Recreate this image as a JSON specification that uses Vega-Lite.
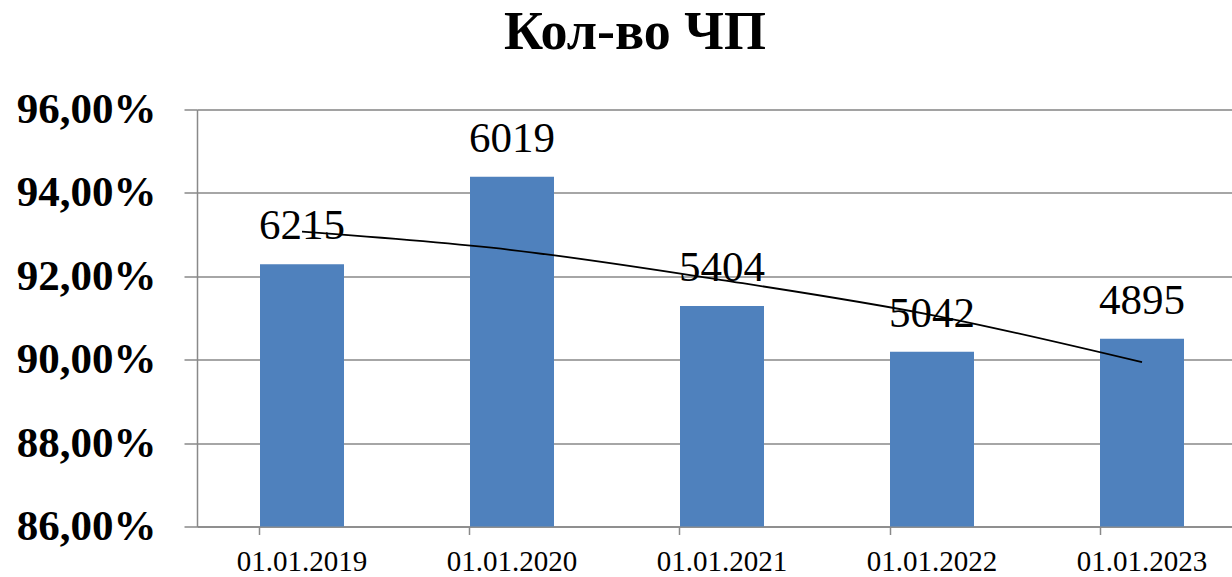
{
  "$schema": "https://vega.github.io/schema/vega-lite/v6.json",
  "autosize": "none",
  "width": 1050,
  "height": 417,
  "padding": {"left": 197, "top": 109.5, "right": 0, "bottom": 50.5},
  "background": "white",
  "title": {
    "text": "Кол-во ЧП",
    "font": "Liberation Serif",
    "fontSize": 54,
    "fontWeight": "bold",
    "color": "#000000",
    "anchor": "middle",
    "dx": -87,
    "offset": 29
  },
  "data": {
    "values": [
      {"date": "01.01.2019", "pct": 92.29, "count": 6215, "trend": 93.07},
      {"date": "01.01.2020", "pct": 94.39, "count": 6019, "trend": 92.63},
      {"date": "01.01.2021", "pct": 91.29, "count": 5404, "trend": 91.91},
      {"date": "01.01.2022", "pct": 90.19, "count": 5042, "trend": 91.07},
      {"date": "01.01.2023", "pct": 90.50, "count": 4895, "trend": 89.94}
    ]
  },
  "encoding": {
    "x": {
      "field": "date",
      "type": "nominal",
      "sort": null,
      "scale": {"paddingInner": 0.6, "paddingOuter": 0.3},
      "axis": {
        "title": null,
        "labelAngle": 0,
        "labelFont": "Liberation Serif",
        "labelFontSize": 29,
        "labelColor": "#000000",
        "labelPadding": 13,
        "bandPosition": 0,
        "tickSize": 8,
        "tickColor": "#898989",
        "domainColor": "#898989",
        "tickWidth": 1.5,
        "domainWidth": 1.5,
        "grid": false
      }
    }
  },
  "layer": [
    {
      "mark": {"type": "bar", "color": "#4F81BD"},
      "encoding": {
        "y": {
          "field": "pct",
          "type": "quantitative",
          "scale": {"domain": [86, 96], "zero": false, "nice": false},
          "axis": {
            "title": null,
            "values": [86, 88, 90, 92, 94, 96],
            "labelExpr": "replace(format(datum.value, '.2f'), '.', ',') + '%'",
            "labelFont": "Liberation Serif",
            "labelFontSize": 43,
            "labelFontWeight": "bold",
            "labelColor": "#000000",
            "labelPadding": 28,
            "tickSize": 13,
            "tickColor": "#898989",
            "tickWidth": 1.5,
            "domainColor": "#898989",
            "domainWidth": 1.5,
            "grid": true,
            "gridColor": "#898989",
            "gridWidth": 1.5
          }
        },
        "y2": {"datum": 86}
      }
    },
    {
      "mark": {"type": "line", "color": "#000000", "strokeWidth": 1.8, "interpolate": "monotone"},
      "encoding": {
        "y": {"field": "trend", "type": "quantitative"}
      }
    },
    {
      "mark": {
        "type": "text",
        "font": "Liberation Serif",
        "fontSize": 43,
        "color": "#000000",
        "baseline": "alphabetic",
        "dy": -25
      },
      "encoding": {
        "y": {"field": "pct", "type": "quantitative"},
        "text": {"field": "count", "type": "quantitative", "format": "d"}
      }
    }
  ]
}
